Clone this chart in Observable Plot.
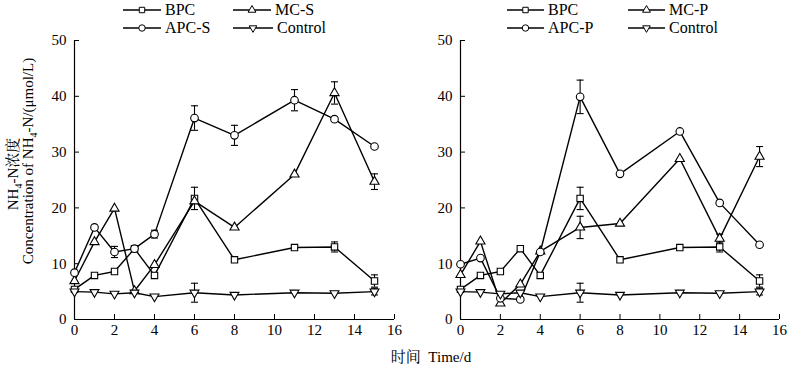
<!DOCTYPE html>
<html><head><meta charset="utf-8">
<script src="https://cdn.jsdelivr.net/npm/d3@7"></script>
<script src="https://cdn.jsdelivr.net/npm/@observablehq/plot@0.6"></script>
<style>
body{margin:0;background:#fff;}
#wrap{position:relative;width:800px;height:365px;color:#000;overflow:hidden;}
.panel{position:absolute;top:0;}
.leg{position:absolute;font-size:16px;line-height:18px;display:flex;align-items:center;white-space:nowrap;}
.leg svg{margin-right:4px;overflow:visible}
.ylab{position:absolute;white-space:nowrap;font-size:15px;transform:translate(-50%,-50%) rotate(-90deg);}
.xlab{position:absolute;white-space:nowrap;font-size:15px;transform:translate(-50%,-50%);}
</style></head><body><div id="wrap"></div>
<script>
// ---- data ----
const days = [0, 1, 2, 3, 4, 6, 8, 11, 13, 15];
const xTicks = [0, 2, 4, 6, 8, 10, 12, 14, 16];
const yTicks = [0, 10, 20, 30, 40, 50];

const bpc      = [5.4, 7.9, 8.6, 12.7, 7.9, 21.7, 10.7, 12.9, 13.0, 6.9];
const bpcErr   = [0, 0, 0, 0, 0.5, 2.0, 0, 0, 0.9, 1.1];
const control    = [5.0, 4.9, 4.6, 4.8, 4.1, 4.8, 4.4, 4.8, 4.7, 5.0];
const controlErr = [0, 0, 0, 0, 0, 1.7, 0, 0, 0, 0.6];

const apcS    = [8.4, 16.5, 12.1, 12.7, 15.3, 36.1, 33.0, 39.3, 35.9, 31.0];
const apcSErr = [0, 0, 1.0, 0, 0.7, 2.2, 1.8, 1.9, 0, 0];
const mcS     = [6.9, 13.9, 19.9, 5.1, 9.8, 21.2, 16.5, 26.0, 40.6, 24.7];
const mcSErr  = [0, 0, 0, 0, 0, 0, 0, 0, 2.0, 1.4];

const apcP    = [9.9, 11.0, 3.8, 3.6, 12.1, 39.9, 26.1, 33.7, 20.9, 13.4];
const apcPErr = [0, 0, 0, 0, 0, 3.0, 0, 0, 0, 0];
const mcP     = [8.0, 14.0, 2.9, 6.3, 12.2, 16.5, 17.2, 28.8, 14.5, 29.2];
const mcPErr  = [0, 0, 0, 0, 0, 2.0, 0, 0, 0.8, 1.8];

// ---- font detection ----
function pickFont(cands) {
  const ctx = document.createElement("canvas").getContext("2d");
  const s = "mmmmmmmmmmlliWW0123456789";
  for (const f of cands) {
    for (const base of ["monospace", "sans-serif"]) {
      ctx.font = `40px ${base}`; const w0 = ctx.measureText(s).width;
      ctx.font = `40px "${f}", ${base}`; const w1 = ctx.measureText(s).width;
      if (Math.abs(w1 - w0) > 0.5) return `"${f}"`;
    }
  }
  return "serif";
}
const SERIF = pickFont(["Liberation Serif", "Times New Roman", "Tinos", "Nimbus Roman", "FreeSerif", "DejaVu Serif"]);
const FONT = `${SERIF}, serif`;
const CJK = `"Noto Serif CJK SC", "Noto Sans CJK SC", ${SERIF}, serif`;
document.getElementById("wrap").style.fontFamily = FONT;

// ---- symbols ----
const sqrt3 = Math.sqrt(3);
const triangleDown = {draw(ctx, size) {
  const y = -Math.sqrt(size / (sqrt3 * 3));
  ctx.moveTo(0, -y * 2); ctx.lineTo(-sqrt3 * y, y); ctx.lineTo(sqrt3 * y, y); ctx.closePath();
}};
const triangleUp = {draw(ctx, size) {
  const y = -Math.sqrt(size / (sqrt3 * 3));
  ctx.moveTo(0, y * 2); ctx.lineTo(-sqrt3 * y, -y); ctx.lineTo(sqrt3 * y, -y); ctx.closePath();
}};
const capSym = {draw(ctx, size) { ctx.moveTo(-3.5, 0); ctx.lineTo(3.5, 0); }};

function rows(name, vals, errs, symbol) {
  return days.map((d, i) => ({series: name, day: d, v: vals[i], e: errs[i], symbol}));
}

function panel(seriesDefs, opts) {
  const all = seriesDefs.flatMap(s => rows(s.name, s.vals, s.errs, s.symbol));
  const errs = all.filter(d => d.e > 0);
  const marks = [
    Plot.ruleY([0], {stroke: "#000", strokeWidth: 1.2}),
    Plot.ruleX([0], {stroke: "#000", strokeWidth: 1.2}),
    Plot.ruleX(errs, {x: "day", y1: d => d.v - d.e, y2: d => d.v + d.e, stroke: "#000", strokeWidth: 1.1}),
    Plot.dot(errs, {x: "day", y: d => d.v + d.e, symbol: capSym, r: 3, stroke: "#000", strokeWidth: 1.1}),
    Plot.dot(errs, {x: "day", y: d => d.v - d.e, symbol: capSym, r: 3, stroke: "#000", strokeWidth: 1.1})
  ];
  for (const s of seriesDefs) {
    marks.push(Plot.line(all.filter(d => d.series === s.name), {x: "day", y: "v", stroke: "#000", strokeWidth: 1.4}));
  }
  for (const s of seriesDefs) {
    marks.push(Plot.dot(all.filter(d => d.series === s.name), {x: "day", y: "v", symbol: s.symbol, r: s.r, fill: "#fff", stroke: "#000", strokeWidth: 1.1}));
  }
  return Plot.plot({
    width: 400, height: 365,
    marginLeft: opts.marginLeft, marginRight: opts.marginRight, marginTop: 40, marginBottom: 46,
    style: {fontFamily: FONT, fontSize: "15px", color: "#000", background: "transparent", overflow: "visible"},
    x: {domain: [0, 16], ticks: xTicks, tickSize: -5, tickPadding: 10, label: null, tickFormat: d => String(d)},
    y: {domain: [0, 50], ticks: yTicks, tickSize: -5, tickPadding: 13, label: null, tickFormat: d => String(d)},
    marks
  });
}

const wrap = document.getElementById("wrap");

const leftDefs = [
  {name: "BPC", vals: bpc, errs: bpcErr, symbol: "square", r: 3.6},
  {name: "MC-S", vals: mcS, errs: mcSErr, symbol: triangleUp, r: 3.4},
  {name: "APC-S", vals: apcS, errs: apcSErr, symbol: "circle", r: 3.8},
  {name: "Control", vals: control, errs: controlErr, symbol: triangleDown, r: 3.3}
];
const rightDefs = [
  {name: "BPC", vals: bpc, errs: bpcErr, symbol: "square", r: 3.6},
  {name: "MC-P", vals: mcP, errs: mcPErr, symbol: triangleUp, r: 3.4},
  {name: "APC-P", vals: apcP, errs: apcPErr, symbol: "circle", r: 3.8},
  {name: "Control", vals: control, errs: controlErr, symbol: triangleDown, r: 3.3}
];

const p1 = panel(leftDefs, {marginLeft: 74, marginRight: 6});
p1.classList.add("panel"); p1.style.left = "0px";
wrap.appendChild(p1);
const p2 = panel(rightDefs, {marginLeft: 60, marginRight: 21});
p2.classList.add("panel"); p2.style.left = "400px";
wrap.appendChild(p2);

// ---- legends ----
function symPath(sym, r) {
  const size = Math.PI * r * r;
  const s = sym === "square" ? d3.symbolSquare : sym === "circle" ? d3.symbolCircle : sym;
  return d3.symbol(s, size)();
}
function legendItem(def, left, top, lineW) {
  const div = document.createElement("div");
  div.className = "leg";
  div.style.left = left + "px";
  div.style.top = (top - 9) + "px";
  const svg = d3.create("svg").attr("width", lineW).attr("height", 18);
  svg.append("line").attr("x1", 0).attr("x2", lineW).attr("y1", 9).attr("y2", 9).attr("stroke", "#000").attr("stroke-width", 1.3);
  svg.append("path").attr("d", symPath(def.symbol, def.r * 0.85)).attr("transform", `translate(${lineW / 2},9)`)
    .attr("fill", "#fff").attr("stroke", "#000").attr("stroke-width", 1);
  div.appendChild(svg.node());
  const t = document.createElement("span");
  t.textContent = def.name;
  div.appendChild(t);
  wrap.appendChild(div);
}
// left legend
legendItem(leftDefs[0], 123, 10, 38);
legendItem(leftDefs[1], 233, 10, 38);
legendItem(leftDefs[2], 123, 28, 38);
legendItem(leftDefs[3], 233, 28, 40);
// right legend
legendItem(rightDefs[0], 507, 10, 37);
legendItem(rightDefs[1], 628, 10, 37);
legendItem(rightDefs[2], 507, 28, 37);
legendItem(rightDefs[3], 628, 28, 37);

// ---- axis titles ----
function addLabel(cls, html, x, y) {
  const d = document.createElement("div");
  d.className = cls; d.innerHTML = html;
  d.style.left = x + "px"; d.style.top = y + "px";
  wrap.appendChild(d);
}
addLabel("ylab", `NH<sub style="font-size:10px">4</sub>-N<span style='font-family:${CJK}'>浓度</span>`, 12, 174);
addLabel("ylab", 'Concentration of NH<sub style="font-size:10px">4</sub>-N/(μmol/L)', 29, 161);
addLabel("xlab", `<span style='font-family:${CJK}'>时间</span>&nbsp;&nbsp;Time/d`, 431, 355);
</script></body></html>
